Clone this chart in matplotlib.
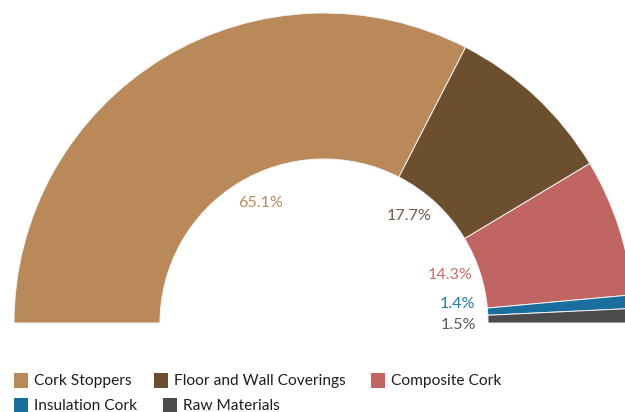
import matplotlib
matplotlib.use("Agg")
import matplotlib.pyplot as plt
from matplotlib.patches import Rectangle
import numpy as np

plt.rcParams['font.family'] = ['Lato', 'DejaVu Sans']

categories = ['Cork Stoppers', 'Floor and Wall Coverings', 'Composite Cork',
              'Insulation Cork', 'Raw Materials']
shares = [65.1, 17.7, 14.3, 1.4, 1.5]
labels = ['65.1%', '17.7%', '14.3%', '1.4%', '1.5%']
colors = ['#B98959', '#6B4F2E', '#C16563', '#1A6E9E', '#4B4B4D']
label_colors = ['#B98959', '#6E5B4A', '#C86E6C', '#2A78A8', '#5A5A5C']

W, H = 625, 412
cx, cy = 324, H - 323          # centre of the half ring (pixel units, y up)
r_out, r_in = 310, 164

fig = plt.figure(figsize=(W / 100, H / 100), dpi=100)
ax = fig.add_axes([0, 0, 1, 1])

# half donut: data fills the upper 180 degrees, the lower half is blank
vals = shares + [sum(shares)]
cols = colors + ['none']
wedges, _ = ax.pie(vals, colors=cols, startangle=180, counterclock=False,
                   center=(cx, cy), radius=r_out,
                   wedgeprops=dict(width=r_out - r_in, edgecolor='#F4F4F4',
                                   linewidth=0.7))
wedges[-1].set_edgecolor('none')

# percentage labels just inside the hole, near each slice's mid angle
total = sum(vals)
nudge = [(7, 4), (-8, 8), (-3, 6), (-2, 10), (-2, -5)]
start = 180.0
for val, lab, lc, (dx, dy) in zip(shares, labels, label_colors, nudge):
    span = val / total * 360.0
    mid = np.deg2rad(start - span / 2)
    start -= span
    x = cx + 136 * np.cos(mid) + dx
    y = cy + 136 * np.sin(mid) + dy
    ax.text(x, y, lab, color=lc, fontsize=11.6, ha='center', va='center')

ax.set_xlim(0, W)
ax.set_ylim(0, H)
ax.set_aspect('auto')
ax.axis('off')

# legend in two rows
legend_pos = [(14, 380), (154, 380), (371, 380), (14, 405), (163, 405)]
for name, col, (lx, ly) in zip(categories, colors, legend_pos):
    ax.add_patch(Rectangle((lx, H - ly - 7.5), 14, 15, color=col, lw=0))
    ax.text(lx + 20, H - ly - 0.5, name, fontsize=11.2, color='#1E1E1E',
            ha='left', va='center')

fig.savefig('out.png', dpi=100)
